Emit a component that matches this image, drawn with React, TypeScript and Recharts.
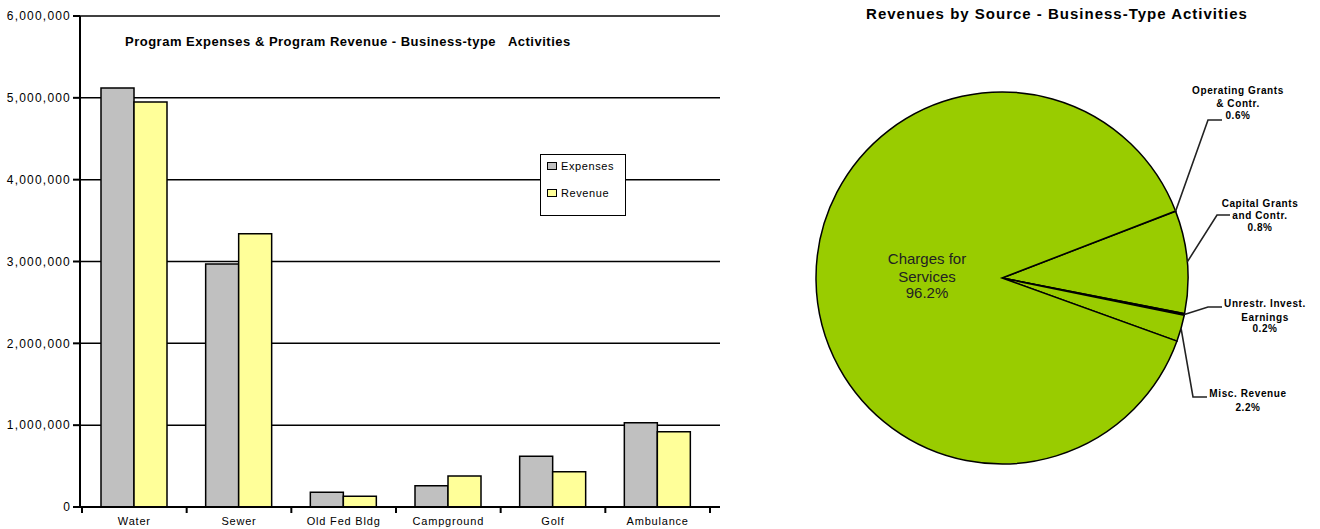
import { BarChart, Bar, XAxis, YAxis, CartesianGrid, PieChart, Pie, Cell } from 'recharts'

// bar chart data
const categories = ['Water', 'Sewer', 'Old Fed Bldg', 'Campground', 'Golf', 'Ambulance']
const expenses = [5120000, 2970000, 180000, 260000, 620000, 1030000]
const revenue = [4950000, 3340000, 130000, 380000, 430000, 920000]
const yTicks = [0, 1000000, 2000000, 3000000, 4000000, 5000000, 6000000]
const seriesNames = ['Expenses', 'Revenue']

// pie data (slice sizes as drawn, labels as printed)
const pieNames = ['Operating Grants & Contr.', 'Capital Grants and Contr.', 'Unrestr. Invest. Earnings', 'Misc. Revenue', 'Charges for Services']
const pieShares = [0.03, 8.9, 0.14, 2.3, 88.63]
const pieLabelText = [
    ['Operating Grants', '& Contr.', '0.6%'],
    ['Capital Grants', 'and Contr.', '0.8%'],
    ['Unrestr. Invest.', 'Earnings', '0.2%'],
    ['Misc. Revenue', '2.2%'],
    ['Charges for', 'Services', '96.2%']
]

const FONT = '"Liberation Sans", Arial, sans-serif'
const BAR_W = 730
const PLOT_L = 80
const PLOT_R = 720
const PAD_L = 2
const PAD_R = 10
const BAND = (PLOT_R - PLOT_L - PAD_L - PAD_R) / categories.length
const SERIES_COLORS = ['#C0C0C0', '#FFFF99']

const PIE_LEFT = 740
const PIE_MARGIN = 5

// leader line elbows / label anchors in page coordinates
const labelLayout = [
    { elbow: [1208, 120], end: [1222, 120], tx: 1238, ty: [90, 103, 115] },
    { elbow: [1217, 215], end: [1230, 215], tx: 1260, ty: [203, 215, 227] },
    { elbow: [1208, 307], end: [1222, 307], tx: 1265, ty: [303, 317, 328] },
    { elbow: [1193, 397], end: [1207, 397], tx: 1248, ty: [393, 407] },
    { elbow: [0, 0], end: [0, 0], tx: 927, ty: [259, 277, 293] }
]

const barData = categories.map((name, i) => ({ name, expenses: expenses[i], revenue: revenue[i] }))
const pieData = pieNames.map((name, i) => ({ name, value: pieShares[i] }))

function CategoryTick(props: any) {
    const { x, y, payload, index } = props
    return (
        <g>
            <line x1={x - BAND / 2} y1={y} x2={x - BAND / 2} y2={y + 6} stroke="#000" strokeWidth={2} />
            {index === categories.length - 1 && (
                <line x1={x + BAND / 2} y1={y} x2={x + BAND / 2} y2={y + 6} stroke="#000" strokeWidth={2} />
            )}
            <text x={x} y={y + 18} textAnchor="middle" fontSize={11} letterSpacing={0.8} fill="#000">{payload.value}</text>
        </g>
    )
}

function LegendBox() {
    return (
        <div style={{ position: 'absolute', left: 540, top: 154, width: 84, height: 60, border: '1.5px solid #000', background: '#fff', fontFamily: FONT }}>
            {seriesNames.map((label, i) => (
                <div key={label} style={{ position: 'absolute', left: 6, top: 5 + i * 27, display: 'flex', alignItems: 'center', gap: 4, fontSize: 11, letterSpacing: 0.6, color: '#000' }}>
                    <div style={{ width: 8, height: 6, border: '1px solid #000', background: SERIES_COLORS[i] }} />
                    <span>{label}</span>
                </div>
            ))}
        </div>
    )
}

function renderPieLabel(props: any) {
    const { cx, cy, midAngle, outerRadius, index } = props
    const lay = labelLayout[index]
    const lines = pieLabelText[index]
    if (index === pieNames.length - 1) {
        return (
            <g>
                {lines.map((t, i) => (
                    <text key={i} x={lay.tx - PIE_LEFT} y={lay.ty[i] + 5} textAnchor="middle" fontSize={15} fill="#222">{t}</text>
                ))}
            </g>
        )
    }
    const rad = (Math.PI / 180) * midAngle
    const ex = cx + outerRadius * Math.cos(rad)
    const ey = cy - outerRadius * Math.sin(rad)
    const pts = `${ex},${ey} ${lay.elbow[0] - PIE_LEFT},${lay.elbow[1]} ${lay.end[0] - PIE_LEFT},${lay.end[1]}`
    return (
        <g>
            <polyline points={pts} fill="none" stroke="#222" strokeWidth={1.6} />
            {lines.map((t, i) => (
                <text key={i} x={lay.tx - PIE_LEFT} y={lay.ty[i] + 3.5} textAnchor="middle" fontSize={10} fontWeight="bold" letterSpacing={0.6} fill="#000">{t}</text>
            ))}
        </g>
    )
}

export default function App() {
    return (
        <div style={{ position: 'absolute', left: 0, top: 0, width: 1320, height: 529, background: '#fff', fontFamily: FONT }}>
            <div style={{ position: 'absolute', left: 0, top: 0 }}>
                <BarChart width={BAR_W} height={529} data={barData} margin={{ top: 16, right: BAR_W - PLOT_R, left: 0, bottom: 0 }} barGap={0}>
                    <CartesianGrid vertical={false} stroke="#000" strokeWidth={1.5} />
                    <XAxis
                        dataKey="name"
                        height={22}
                        padding={{ left: PAD_L, right: PAD_R }}
                        axisLine={{ stroke: '#000', strokeWidth: 2 }}
                        tickLine={false}
                        tickSize={0}
                        tickMargin={0}
                        interval={0}
                        tick={<CategoryTick />}
                    />
                    <YAxis
                        width={PLOT_L}
                        domain={[0, 6000000]}
                        ticks={yTicks}
                        interval={0}
                        axisLine={{ stroke: '#000', strokeWidth: 2 }}
                        tickLine={{ stroke: '#000', strokeWidth: 2 }}
                        tickSize={7}
                        tickMargin={2}
                        tick={{ fill: '#000', fontSize: 12, letterSpacing: 1.2 }}
                        tickFormatter={(v: number) => v.toLocaleString('en-US')}
                    />
                    <Bar dataKey="expenses" name={seriesNames[0]} fill={SERIES_COLORS[0]} stroke="#000" strokeWidth={1.5} barSize={33} isAnimationActive={false} />
                    <Bar dataKey="revenue" name={seriesNames[1]} fill={SERIES_COLORS[1]} stroke="#000" strokeWidth={1.5} barSize={33} isAnimationActive={false} />
                </BarChart>
            </div>
            <LegendBox />
            <div style={{ position: 'absolute', left: 125, top: 34, fontSize: 13, fontWeight: 'bold', letterSpacing: 0.5, lineHeight: '15px', whiteSpace: 'pre', color: '#000' }}>
                {'Program Expenses & Program Revenue - Business-type   Activities'}
            </div>
            <div style={{ position: 'absolute', left: PIE_LEFT, top: 0 }}>
                <PieChart width={1320 - PIE_LEFT} height={529}>
                    <Pie
                        data={pieData}
                        dataKey="value"
                        cx={1002 - PIE_LEFT - PIE_MARGIN}
                        cy={278 - PIE_MARGIN}
                        outerRadius={186}
                        startAngle={21.1}
                        endAngle={21.1 - 360}
                        stroke="#000"
                        strokeWidth={1.5}
                        label={renderPieLabel}
                        labelLine={false}
                        isAnimationActive={false}
                    >
                        {pieData.map((entry) => (
                            <Cell key={entry.name} fill="#99CC00" />
                        ))}
                    </Pie>
                </PieChart>
            </div>
            <div style={{ position: 'absolute', left: 807, top: 5, width: 500, textAlign: 'center', fontSize: 15, fontWeight: 'bold', letterSpacing: 1, lineHeight: '17px', color: '#000' }}>
                Revenues by Source - Business-Type Activities
            </div>
        </div>
    )
}
